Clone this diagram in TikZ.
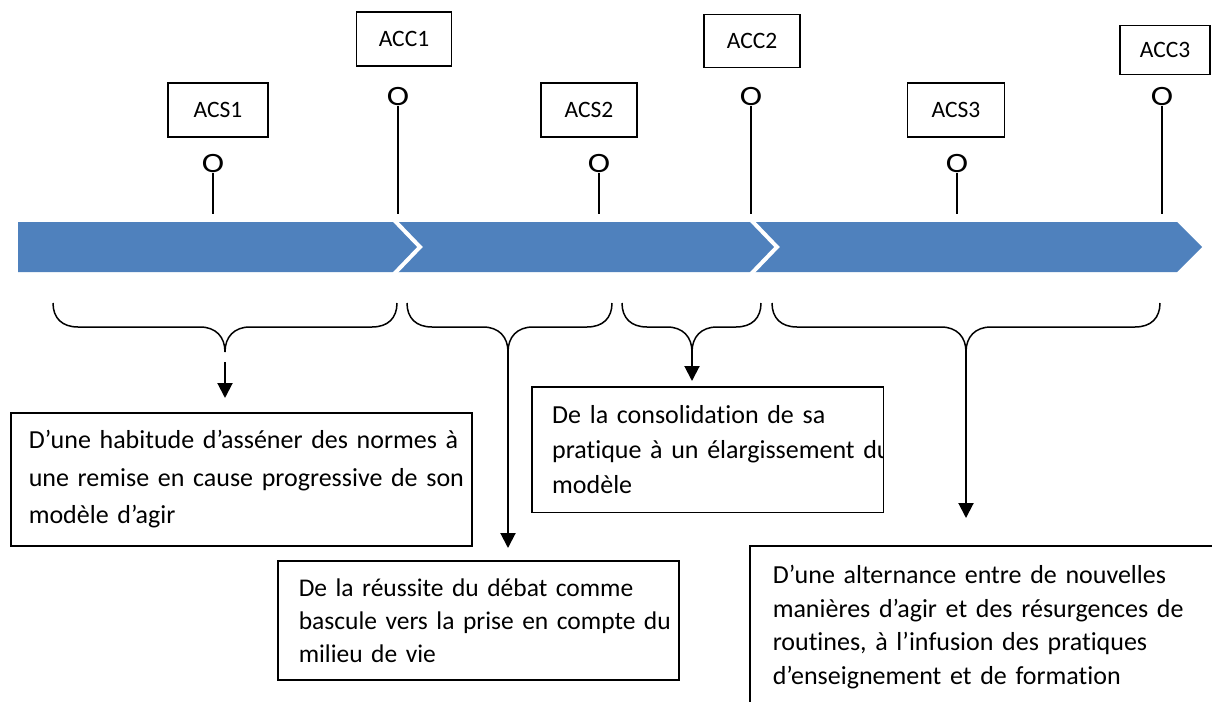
\documentclass[tikz,border=0pt]{standalone}
\usepackage{fontspec}
\setmainfont{Carlito}[Ligatures=NoCommon]
\usetikzlibrary{arrows.meta}
\definecolor{barblue}{HTML}{4F81BD}

\begin{document}
\begin{tikzpicture}[x=1pt, y=-1pt,
  lab/.style={draw, line width=1.2pt, inner sep=0pt, font=\fontsize{23.5}{28}\selectfont},
  knob/.style={inner sep=0pt, font=\fontsize{28}{30}\selectfont},
  stalk/.style={line width=1.5pt},
  brc/.style={line width=1.5pt},
  toarrow/.style={line width=2pt, -{Triangle[width=15pt,length=15pt]}},
  txtbox/.style={anchor=north west, align=left, inner ysep=0pt}]
\useasboundingbox (0,0) rectangle (1212,701);
\clip (0,0) rectangle (1212,701);
\fill[white] (0,0) rectangle (1212,701);
\fill[barblue](18,222)--(1177,222)--(1202,247)--(1177,272)--(18,272)--cycle;
\draw[white, line width=4pt](394,220)--(420,247)--(394,274);
\draw[white, line width=4pt](751,220)--(777,247)--(751,274);
\foreach \n/\t/\x/\y/\bx/\by/\w/\h in {1/ACS1/213/164/218/110/100/54, 2/ACC1/398/97/404/39/95/54, 3/ACS2/599/164/589/110/96/54, 4/ACC2/751/97/752/41/96/53, 5/ACS3/957/164/956/110/97/54, 6/ACC3/1162/97/1165/50/90/49}{
  \node[lab, minimum width=\w, minimum height=\h] (lab\n) at (\bx,\by) {\t};
  \node[knob] (o\n) at (\x,\y) {\scalebox{1.2}[1]{O}};
  \coordinate (b\n) at (\x,214);
  \draw[stalk] (o\n.south) -- (b\n);
}
\foreach \l/\r/\m [count=\i] in {53/397/225, 407/612/508, 622/761/692, 772/1160/966}{
  \coordinate (tip\i) at (\m,352);
  \draw[brc] (\l,303) .. controls (\l,318) and (\l+9,327) .. (\l+25,327) -- (\m-25,327)
    .. controls (\m-9,327) and (\m,337) .. (tip\i)
    .. controls (\m,337) and (\m+9,327) .. (\m+25,327) -- (\r-25,327)
    .. controls (\r-9,327) and (\r,318) .. (\r,303);
}
\node[txtbox, draw, line width=1.5pt, text width=425, inner xsep=18, minimum height=133, font=\fontsize{26}{37.5}\selectfont] (boxA) at (10,412)
  {\mbox{D’une habitude d’asséner des normes à}\\\mbox{une remise en cause progressive de son}\\modèle d’agir};
\node[txtbox, draw, line width=1.5pt, text width=359, inner xsep=21, minimum height=119, font=\fontsize{25.5}{33}\selectfont] (boxB) at (277,560)
  {\mbox{De la réussite du débat comme}\\\mbox{bascule vers la prise en compte du}\\milieu de vie};
\begin{scope}
\clip (532,387) rectangle (883,512);
\node[txtbox, text width=311, inner xsep=20, minimum height=125, font=\fontsize{26}{35}\selectfont] (boxC) at (532,387)
  {\mbox{De la consolidation de sa}\\\mbox{pratique à un élargissement du}\\modèle};
\end{scope}
\draw[line width=1.5pt] (boxC.north west) rectangle (boxC.south east);
\node[txtbox, draw, line width=1.5pt, text width=440, inner xsep=23, minimum height=163, font=\fontsize{26}{33.5}\selectfont] (boxD) at (749,545)
  {\mbox{D’une alternance entre de nouvelles}\\\mbox{manières d’agir et des résurgences de}\\\mbox{routines, à l’infusion des pratiques}\\\mbox{d’enseignement et de formation}};
\coordinate (s1) at (225,362);
\coordinate (e1) at (225,398);
\coordinate (e2) at (508,548);
\coordinate (e3) at (692,381);
\coordinate (e4) at (966,518);
\draw[toarrow] (s1) -- (e1);
\draw[toarrow] (tip2) -- (e2);
\draw[toarrow] (tip3) -- (e3);
\draw[toarrow] (tip4) -- (e4);
\end{tikzpicture}
\end{document}
